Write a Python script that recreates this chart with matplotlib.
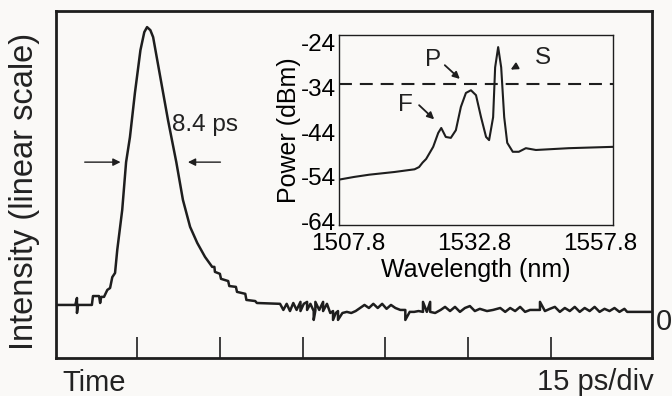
import numpy as np
from matplotlib import pyplot as plt

# Streak camera trace: time in ps, intensity normalised to the peak
pulse_t = [0.3, 3.8, 4.1, 4.1, 4.3, 6.8, 7.0, 8.1, 8.3, 8.5, 9.0, 9.6, 10.1, 10.5, 11.0,
           11.4, 12.3, 13.0, 13.7, 14.6, 15.6, 16.3, 16.8, 17.4, 17.9, 19.2, 20.6, 22.1,
           23.3, 24.6, 25.9, 27.3, 28.6, 29.0, 29.1, 30.0, 30.2, 31.5, 31.7, 32.9, 33.1,
           34.6, 34.8, 36.4, 36.7, 40.9]
pulse_i = [0.0, 0.0, 0.025, -0.029, 0.0, 0.0, 0.032, 0.032, 0.007, 0.029, 0.029, 0.054,
           0.061, 0.10, 0.115, 0.198, 0.342, 0.514, 0.604, 0.763, 0.917, 0.982, 1.0, 0.989,
           0.964, 0.820, 0.665, 0.514, 0.378, 0.281, 0.223, 0.173, 0.137, 0.137, 0.119,
           0.112, 0.094, 0.086, 0.068, 0.065, 0.047, 0.040, 0.018, 0.014, 0.007, 0.004]

# noisy baseline after the pulse
tail_t = [41.5, 42.1, 42.7, 43.3, 43.9, 44.6, 44.6, 45.2, 45.8, 45.8, 46.4, 47.0, 47.0,
          47.3, 47.3, 48.0, 48.7, 48.7, 49.4, 50.0, 50.5, 50.5, 51.0, 51.4, 51.4, 52.2,
          53.0, 53.8, 54.6, 55.4, 56.2, 57.0, 57.8, 58.6, 59.4, 60.2, 61.0, 61.8, 62.7,
          63.6, 63.6, 64.4, 65.2, 66.0, 66.8, 66.8, 67.5, 68.1, 68.1, 69.0, 70.0, 70.8,
          71.7, 72.6, 73.5, 74.4, 75.3, 76.2, 77.1, 78.4, 79.5, 80.8, 81.7, 82.6, 83.5,
          84.4, 85.3, 86.2, 87.1, 88.0, 88.0, 88.9, 89.8, 90.7, 91.6, 92.5, 93.4, 94.3,
          95.2, 96.1, 97.0, 97.9, 98.8, 99.7, 100.6, 101.5, 102.4, 103.3, 103.8, 106.0,
          108.3]
tail_i = [-0.018, 0.004, -0.022, 0.007, -0.018, 0.011, -0.022, 0.004, 0.011, -0.018,
          0.004, -0.022, -0.054, -0.020, 0.011, -0.018, 0.011, -0.022, 0.004, -0.029,
          -0.022, -0.054, -0.029, -0.022, -0.054, -0.029, -0.025, -0.029, -0.022, -0.011,
          0.0, -0.011, 0.004, -0.011, 0.004, -0.014, 0.0, -0.011, -0.018, -0.018, -0.054,
          -0.025, -0.025, -0.022, -0.025, 0.011, -0.025, 0.011, -0.025, -0.029, -0.018,
          -0.007, -0.022, -0.007, -0.025, -0.011, -0.004, -0.022, -0.014, -0.022, -0.018,
          -0.011, -0.025, -0.011, -0.022, -0.007, -0.025, -0.018, -0.018, -0.018, 0.011,
          -0.022, -0.014, -0.007, -0.025, -0.011, -0.022, -0.007, -0.025, -0.011, -0.022,
          -0.007, -0.025, -0.014, -0.022, -0.011, -0.025, -0.014, -0.025, -0.025, -0.025]

time_ticks = [15, 30, 45, 60, 75, 90]

# Inset: optical spectrum
wavelength = [1506.0, 1509.0, 1512.0, 1517.0, 1521.0, 1521.9, 1522.6, 1523.3, 1524.7,
              1525.7, 1526.3, 1527.2, 1528.2, 1529.2, 1530.2, 1531.2, 1532.2, 1533.2,
              1534.2, 1535.2, 1535.8, 1536.6, 1537.0, 1537.6, 1538.2, 1538.8, 1539.4,
              1540.5, 1541.7, 1543.1, 1545.1, 1551.6, 1560.4]
power = [-54.6, -54.0, -53.5, -52.9, -52.3, -51.8, -50.8, -50.0, -47.3, -44.2, -43.1,
         -45.1, -45.3, -43.6, -38.4, -35.3, -34.7, -35.8, -40.7, -45.1, -45.8, -40.7,
         -29.6, -25.1, -29.6, -40.7, -46.4, -48.4, -48.4, -47.6, -48.0, -47.6, -47.3]
wl_ticks = [1507.8, 1532.8, 1557.8]
wl_labels = ['1507.8', '1532.8', '1557.8']
p_ticks = [-24, -34, -44, -54, -64]

ink = '#1e1e1e'
bg = '#faf9f7'
plt.rcParams['font.family'] = ['Liberation Sans', 'DejaVu Sans']
plt.rcParams['text.color'] = '#222222'
plt.rcParams['axes.unicode_minus'] = False

fig = plt.figure(figsize=(6.72, 3.96), dpi=100, facecolor=bg)

ax = fig.add_axes([56/672, 1 - 358/396, 596/672, 347/396], facecolor=bg)
ax.plot(pulse_t + tail_t, pulse_i + tail_i, color=ink, lw=1.8)
ax.set_xlim(0.3, 108.3)
ax.set_ylim(-0.191, 1.058)
ax.set_xticks(time_ticks)
ax.set_yticks([])
ax.tick_params(axis='x', direction='in', length=15, width=1.2, color=ink,
               labelbottom=False)
for s in ax.spines.values():
    s.set_linewidth(2.0)
    s.set_color(ink)

# FWHM arrows
ax.annotate('', xy=(12.5, 0.514), xytext=(5.0, 0.514),
            arrowprops=dict(arrowstyle='-|>', lw=1.0, color=ink, mutation_scale=11))
ax.annotate('', xy=(23.7, 0.514), xytext=(30.6, 0.514),
            arrowprops=dict(arrowstyle='-|>', lw=1.0, color=ink, mutation_scale=11))
ax.text(21.3, 0.647, '8.4 ps', fontsize=17.5, va='center', ha='left')

fig.text(25/672, 1 - 191/396, 'Intensity (linear scale)', rotation=90,
         fontsize=23.5, ha='center', va='center')
fig.text(62/672, 1 - 391/396, 'Time', fontsize=21, ha='left', va='baseline')
fig.text(654/672, 1 - 390/396, '15 ps/div', fontsize=21, ha='right', va='baseline')
fig.text(656/672, 1 - 322/396, '0', fontsize=21, ha='left', va='center')

# inset spectrum
ax2 = fig.add_axes([339/672, 1 - 225/396, 274/672, 190/396], facecolor=bg)
ax2.plot(wavelength, power, color=ink, lw=1.5)
ax2.axhline(-33.3, color=ink, lw=1.5, dashes=(6.2, 3.8))
ax2.set_xlim(1506.0, 1560.4)
ax2.set_ylim(-64.7, -22.4)
ax2.set_xticks(wl_ticks)
ax2.set_xticklabels(wl_labels)
ax2.set_yticks(p_ticks)
ax2.tick_params(length=0, labelsize=17.5, pad=2)
ax2.tick_params(axis='x', pad=6)
ax2.set_xlabel('Wavelength (nm)', fontsize=18, labelpad=2)
ax2.set_ylabel('Power (dBm)', fontsize=18, labelpad=0)
for s in ax2.spines.values():
    s.set_linewidth(1.0)
    s.set_color(ink)

ax2.text(1524.6, -28.0, 'P', fontsize=17.5, ha='center', va='center')
ax2.annotate('', xy=(1530.4, -32.6), xytext=(1526.6, -28.7),
             arrowprops=dict(arrowstyle='-|>', lw=1.3, color=ink, mutation_scale=10))
ax2.text(1546.5, -27.6, 'S', fontsize=17.5, ha='center', va='center')
ax2.annotate('', xy=(1539.6, -30.4), xytext=(1541.7, -29.1),
             arrowprops=dict(arrowstyle='-|>', lw=1.3, color=ink, mutation_scale=10))
ax2.text(1519.2, -38.0, 'F', fontsize=17.5, ha='center', va='center')
ax2.annotate('', xy=(1525.3, -41.6), xytext=(1521.5, -37.6),
             arrowprops=dict(arrowstyle='-|>', lw=1.3, color=ink, mutation_scale=10))

fig.savefig('out.png', dpi=100, facecolor=bg)
